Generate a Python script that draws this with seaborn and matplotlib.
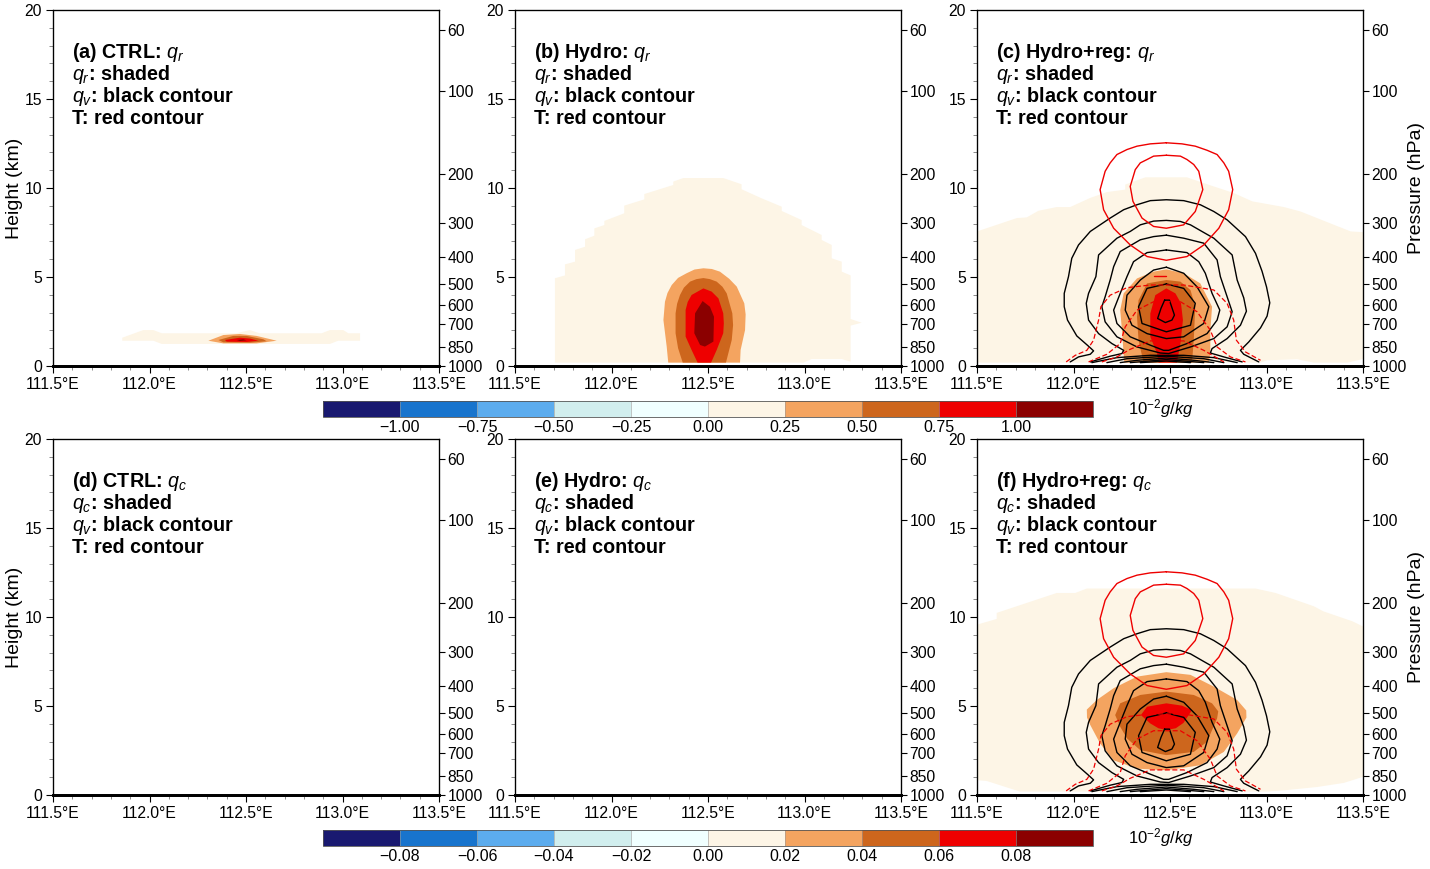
import numpy as np
import matplotlib
matplotlib.use('Agg')
import matplotlib.pyplot as plt
from matplotlib.cm import ScalarMappable
from matplotlib.colors import BoundaryNorm, ListedColormap
from matplotlib.ticker import MultipleLocator
import seaborn as sns

# axis labels
lon_ticks = [111.5, 112.0, 112.5, 113.0, 113.5]
lon_labels = ['111.5°E', '112.0°E', '112.5°E', '113.0°E', '113.5°E']
pres_labels = ['60', '100', '200', '300', '400', '500', '600', '700', '850', '1000']
pres_heights = [18.9, 15.45, 10.8, 8.03, 6.12, 4.6, 3.43, 2.36, 1.07, 0.0]

# colour bar
shade_colors = ['#191970', '#1874CD', '#5CACEE', '#D1EEEE', '#F0FFFF',
                '#FDF5E6', '#F4A460', '#CD661D', '#EE0000', '#8B0000']
qr_bounds = [-1.25, -1.0, -0.75, -0.5, -0.25, 0.0, 0.25, 0.5, 0.75, 1.0, 1.25]
qc_bounds = [-0.1, -0.08, -0.06, -0.04, -0.02, 0.0, 0.02, 0.04, 0.06, 0.08, 0.1]

# (a) qr shading
a_light_lon = [111.859, 111.968, 112.020, 112.063, 112.45, 112.52, 112.57, 112.892, 112.935, 113.004, 113.030, 113.091, 113.091, 112.978, 112.935, 112.063, 112.020, 111.859]
a_light_h = [1.59, 2.02, 2.02, 1.84, 1.84, 2.02, 1.84, 1.84, 2.02, 2.02, 1.84, 1.84, 1.42, 1.42, 1.24, 1.24, 1.42, 1.42]
a_orange_lon = [112.305, 112.383, 112.469, 112.555, 112.659, 112.555, 112.383]
a_orange_h = [1.42, 1.74, 1.80, 1.69, 1.42, 1.27, 1.27]
a_brown_lon = [112.357, 112.434, 112.503, 112.590, 112.607, 112.521, 112.383]
a_brown_h = [1.46, 1.69, 1.69, 1.50, 1.39, 1.31, 1.33]
a_red_lon = [112.391, 112.469, 112.521, 112.564, 112.503, 112.400]
a_red_h = [1.46, 1.59, 1.54, 1.42, 1.35, 1.37]
a_dark_lon = [112.452, 112.486, 112.503, 112.469]
a_dark_h = [1.46, 1.50, 1.44, 1.40]

# (b) qr shading
b_light_lon = [111.707, 111.707, 111.759, 111.759, 111.811, 111.811, 111.863, 111.863, 111.911, 111.911, 111.963, 111.963, 112.066, 112.066, 112.170, 112.170, 112.320, 112.320, 112.372, 112.579, 112.674, 112.674, 112.778, 112.882, 112.882, 112.985, 112.985, 113.037, 113.089, 113.089, 113.141, 113.141, 113.193, 113.193, 113.239, 113.239, 113.296, 113.239, 113.239, 113.193, 113.037, 112.994, 111.707]
b_light_h = [0.19, 4.93, 5.09, 5.71, 5.86, 6.52, 6.70, 7.12, 7.32, 7.73, 7.92, 8.15, 8.58, 9.01, 9.36, 9.66, 10.17, 10.36, 10.56, 10.56, 10.21, 9.93, 9.42, 8.95, 8.71, 8.20, 7.92, 7.64, 7.36, 7.08, 6.80, 6.05, 5.86, 5.30, 5.09, 2.64, 2.43, 2.27, 0.24, 0.39, 0.39, 0.19, 0.19]
b_orange_lon = [112.476, 112.430, 112.389, 112.345, 112.312, 112.290, 112.277, 112.269, 112.286, 112.294, 112.666, 112.669, 112.692, 112.695, 112.688, 112.649, 112.610, 112.562, 112.520]
b_orange_h = [5.49, 5.42, 5.21, 4.95, 4.55, 4.10, 3.61, 2.58, 1.09, 0.19, 0.19, 0.90, 2.02, 2.90, 3.52, 4.46, 4.90, 5.30, 5.45]
b_brown_lon = [112.476, 112.440, 112.407, 112.375, 112.355, 112.340, 112.332, 112.332, 112.345, 112.369, 112.593, 112.623, 112.630, 112.626, 112.597, 112.575, 112.545, 112.510]
b_brown_h = [4.94, 4.88, 4.74, 4.40, 3.99, 3.50, 2.96, 1.84, 1.00, 0.19, 0.19, 1.46, 2.30, 2.96, 4.08, 4.45, 4.74, 4.88]
b_red_lon = [112.476, 112.415, 112.395, 112.384, 112.384, 112.415, 112.446, 112.516, 112.545, 112.579, 112.582, 112.579, 112.554, 112.519]
b_red_h = [4.36, 3.99, 3.60, 3.15, 1.65, 0.90, 0.19, 0.19, 0.90, 1.84, 2.40, 2.96, 3.80, 4.18]
b_dark_lon = [112.472, 112.433, 112.429, 112.459, 112.484, 112.528, 112.531, 112.510]
b_dark_h = [3.65, 2.96, 1.84, 1.18, 1.09, 1.37, 2.77, 3.33]

# (c) qr shading
c_light_lon = [111.5, 111.706, 111.758, 111.818, 111.913, 111.983, 112.086, 112.173, 112.268, 112.268, 112.372, 112.588, 112.709, 112.830, 112.926, 113.090, 113.176, 113.436, 113.5, 113.5, 113.419, 113.246, 113.159, 113.003, 112.969, 111.5]
c_light_h = [7.56, 8.31, 8.35, 8.72, 8.93, 8.93, 9.44, 9.77, 9.91, 10.19, 10.60, 10.60, 10.15, 9.72, 9.25, 8.93, 8.68, 7.56, 7.52, 0.39, 0.19, 0.19, 0.38, 0.32, 0.19, 0.19]
c_orange_lon = [112.263, 112.251, 112.242, 112.260, 112.329, 112.415, 112.481, 112.571, 112.657, 112.718, 112.709, 112.709, 112.701]
c_orange_h = [0.19, 2.01, 3.14, 4.08, 4.92, 5.30, 5.43, 5.21, 4.64, 3.33, 2.01, 0.70, 0.19]
c_brown_lon = [112.363, 112.337, 112.329, 112.337, 112.381, 112.481, 112.554, 112.606, 112.631, 112.623, 112.614]
c_brown_h = [0.19, 1.45, 2.76, 3.70, 4.64, 4.83, 4.74, 4.27, 3.33, 1.45, 0.19]
c_red_lon = [112.441, 112.433, 112.398, 112.398, 112.424, 112.481, 112.528, 112.557, 112.567, 112.554, 112.536]
c_red_h = [0.19, 0.70, 1.64, 2.95, 3.98, 4.36, 4.08, 3.52, 2.58, 1.26, 0.19]

# (f) qc shading
f_light_lon = [111.5, 111.602, 111.602, 111.913, 112.009, 112.069, 112.943, 113.047, 113.246, 113.294, 113.445, 113.5, 113.5, 113.401, 113.263, 113.090, 113.003, 111.723, 111.550, 111.5]
f_light_h = [9.57, 9.89, 10.23, 11.35, 11.35, 11.60, 11.60, 11.35, 10.60, 10.32, 9.76, 9.47, 1.02, 0.68, 0.45, 0.26, 0.19, 0.19, 0.79, 0.83]
f_orange_lon = [112.481, 112.329, 112.208, 112.121, 112.069, 112.070, 112.087, 112.138, 112.208, 112.329, 112.481, 112.657, 112.779, 112.848, 112.896, 112.895, 112.848, 112.727, 112.606]
f_orange_h = [6.90, 6.65, 6.00, 5.34, 4.80, 4.35, 3.93, 2.89, 1.95, 1.48, 1.39, 1.67, 2.42, 3.46, 4.35, 4.75, 5.34, 6.09, 6.75]
f_brown_lon = [112.481, 112.346, 112.242, 112.216, 112.242, 112.277, 112.346, 112.481, 112.623, 112.692, 112.744, 112.750, 112.718, 112.623]
f_brown_h = [5.81, 5.62, 5.15, 4.49, 3.83, 3.18, 2.52, 2.24, 2.42, 2.99, 4.30, 4.70, 5.15, 5.62]
f_red_lon = [112.481, 112.381, 112.349, 112.398, 112.440, 112.481, 112.530, 112.570, 112.614, 112.562]
f_red_h = [5.15, 4.96, 4.49, 4.02, 3.75, 3.65, 3.75, 4.05, 4.77, 5.02]

# qv contours (black), same in (c) and (f)
k1_lon = [111.983, 112.026, 112.087, 112.104, 112.078, 112.017, 111.969, 111.952, 111.952, 111.974, 111.991, 112.026, 112.087, 112.190, 112.260, 112.329, 112.398, 112.481, 112.571, 112.657, 112.727, 112.796, 112.891, 112.943, 112.977, 113.000, 113.017, 113.003, 112.969, 112.908, 112.865, 112.882, 112.960]
k1_h = [0.23, 0.51, 0.66, 0.85, 1.11, 1.69, 2.58, 3.33, 4.08, 5.02, 6.05, 6.80, 7.56, 8.31, 8.78, 9.06, 9.29, 9.34, 9.29, 9.06, 8.68, 8.21, 7.27, 6.33, 5.32, 4.45, 3.55, 2.80, 2.14, 1.35, 0.88, 0.66, 0.23]
k2_lon = [112.087, 112.190, 112.251, 112.260, 112.199, 112.130, 112.078, 112.066, 112.078, 112.116, 112.130, 112.225, 112.294, 112.346, 112.415, 112.481, 112.554, 112.606, 112.675, 112.727, 112.822, 112.848, 112.882, 112.896, 112.865, 112.796, 112.718, 112.709, 112.779, 112.874]
k2_h = [0.23, 0.55, 0.70, 0.88, 1.26, 1.82, 2.58, 3.52, 4.08, 5.02, 6.24, 7.18, 7.56, 7.93, 8.14, 8.18, 8.12, 7.93, 7.50, 7.18, 6.24, 4.83, 3.83, 3.08, 2.29, 1.54, 0.98, 0.73, 0.51, 0.23]
k3_lon = [112.481, 112.415, 112.346, 112.242, 112.208, 112.190, 112.164, 112.147, 112.164, 112.225, 112.329, 112.450, 112.493, 112.606, 112.727, 112.796, 112.822, 112.796, 112.761, 112.744, 112.675, 112.571, 112.481]
k3_h = [7.35, 7.27, 7.09, 6.43, 5.58, 4.83, 3.89, 3.33, 2.48, 1.64, 1.07, 0.73, 0.70, 1.07, 1.54, 2.20, 3.05, 3.89, 5.02, 5.96, 6.90, 7.18, 7.35]
k4_lon = [112.481, 112.381, 112.311, 112.277, 112.242, 112.208, 112.225, 112.294, 112.398, 112.467, 112.493, 112.588, 112.692, 112.744, 112.758, 112.718, 112.683, 112.649, 112.588, 112.481]
k4_h = [6.52, 6.37, 5.86, 5.02, 4.08, 3.14, 2.39, 1.64, 1.17, 0.88, 0.88, 1.26, 1.82, 2.58, 3.14, 4.08, 5.21, 5.86, 6.37, 6.52]
k5_lon = [112.481, 112.415, 112.346, 112.277, 112.268, 112.303, 112.381, 112.481, 112.571, 112.675, 112.701, 112.640, 112.571, 112.481]
k5_h = [5.55, 5.39, 4.83, 3.98, 3.14, 2.29, 1.82, 1.54, 1.64, 2.39, 3.33, 4.45, 5.21, 5.55]
k6_lon = [112.481, 112.381, 112.337, 112.355, 112.481, 112.606, 112.631, 112.571, 112.481]
k6_h = [4.61, 4.36, 3.33, 2.39, 1.92, 2.29, 3.52, 4.36, 4.61]
k7_lon = [112.472, 112.497, 112.523, 112.510, 112.476, 112.436, 112.453, 112.472]
k7_h = [3.70, 3.70, 2.86, 2.58, 2.44, 2.67, 3.23, 3.70]
g1_lon = [112.095, 112.225, 112.398, 112.571, 112.727, 112.848]
g1_h = [0.19, 0.47, 0.60, 0.60, 0.47, 0.19]
g2_lon = [112.173, 112.277, 112.481, 112.675, 112.779]
g2_h = [0.19, 0.41, 0.55, 0.41, 0.19]
g3_lon = [112.242, 112.329, 112.481, 112.623, 112.727]
g3_h = [0.19, 0.32, 0.45, 0.32, 0.19]
g4_lon = [112.294, 112.481, 112.675]
g4_h = [0.19, 0.36, 0.19]
g5_lon = [112.346, 112.481, 112.606]
g5_h = [0.19, 0.28, 0.19]

# T contours (red)
r1_lon = [112.481, 112.398, 112.329, 112.277, 112.225, 112.190, 112.164, 112.138, 112.156, 112.208, 112.294, 112.381, 112.481, 112.588, 112.675, 112.753, 112.804, 112.825, 112.804, 112.779, 112.744, 112.692, 112.631, 112.562, 112.481]
r1_h = [12.54, 12.48, 12.35, 12.16, 11.88, 11.41, 10.94, 9.91, 8.78, 7.74, 6.80, 6.15, 5.94, 6.15, 6.80, 7.74, 8.78, 9.91, 10.94, 11.41, 11.88, 12.12, 12.35, 12.48, 12.54]
r2_lon = [112.481, 112.415, 112.381, 112.346, 112.320, 112.294, 112.308, 112.355, 112.415, 112.481, 112.571, 112.631, 112.670, 112.649, 112.623, 112.588, 112.554, 112.481]
r2_h = [11.84, 11.79, 11.60, 11.41, 11.03, 10.09, 9.25, 8.31, 7.84, 7.74, 7.93, 8.68, 9.91, 10.94, 11.32, 11.60, 11.79, 11.84]
r3_lon = [112.419, 112.481]
r3_h = [5.06, 5.06]
d1_lon = [111.962, 112.009, 112.069, 112.104, 112.130, 112.142, 112.190, 112.277, 112.398, 112.571, 112.727, 112.796, 112.830, 112.844, 112.891, 112.969]
d1_h = [0.23, 0.60, 0.88, 1.45, 2.58, 3.33, 3.98, 4.40, 4.55, 4.55, 4.27, 3.52, 2.58, 1.45, 0.79, 0.32]
d2_lon = [112.078, 112.173, 112.242, 112.268, 112.329, 112.415, 112.554, 112.640, 112.709, 112.744, 112.813, 112.891]
d2_h = [0.23, 0.66, 1.26, 2.20, 3.14, 3.61, 3.61, 3.05, 2.01, 1.07, 0.51, 0.23]
d3_lon = [112.147, 112.225, 112.294, 112.398, 112.571, 112.675, 112.779]
d3_h = [0.23, 0.51, 0.94, 1.41, 1.41, 0.88, 0.23]

sns.set_style('ticks')
plt.rcParams['font.family'] = ['Liberation Sans', 'DejaVu Sans']
plt.rcParams['text.color'] = 'black'
plt.rcParams['axes.labelcolor'] = 'black'
plt.rcParams['xtick.color'] = 'black'
plt.rcParams['ytick.color'] = 'black'
plt.rcParams['axes.edgecolor'] = 'black'
plt.rcParams['mathtext.fontset'] = 'custom'
plt.rcParams['mathtext.rm'] = 'Liberation Sans'
plt.rcParams['mathtext.it'] = 'Liberation Sans:italic'
plt.rcParams['mathtext.bf'] = 'Liberation Sans:bold'

W, H = 1430, 869
fig = plt.figure(figsize=(W / 100, H / 100), dpi=100)


def make_axes(left, bottom):
    ax = fig.add_axes([left / W, 1 - bottom / H, 386 / W, 356 / H])
    ax.set_xlim(111.5, 113.5)
    ax.set_ylim(0, 20)
    ax.set_xticks(lon_ticks)
    ax.set_xticklabels(lon_labels)
    ax.set_yticks([0, 5, 10, 15, 20])
    ax.xaxis.set_minor_locator(MultipleLocator(0.1))
    ax.yaxis.set_minor_locator(MultipleLocator(1))
    ax.tick_params(which='major', length=5, width=0.8, labelsize=11.3, pad=3)
    ax.tick_params(which='minor', length=3, width=0.6, color='#777777')
    ax.spines['bottom'].set_linewidth(2)
    for side in ['top', 'left', 'right']:
        ax.spines[side].set_visible(True)
        ax.spines[side].set_linewidth(0.9)
    # pressure axis on the right
    ax2 = ax.twinx()
    ax2.set_ylim(0, 20)
    ax2.set_yticks(pres_heights)
    ax2.set_yticklabels(pres_labels)
    ax2.tick_params(length=4, width=0.8, labelsize=11.3, pad=2)
    ax2.spines['bottom'].set_linewidth(2)
    ax2.grid(False)
    return ax, ax2


def panel_text(ax, title, var):
    lines = [title, f'${var}$: shaded', '$q_v$: black contour', 'T: red contour']
    for yy, line in zip([0.864, 0.802, 0.741, 0.679], lines):
        ax.text(0.049, yy, line, transform=ax.transAxes, fontsize=14.2,
                fontweight='bold', va='baseline', ha='left')


def shade(ax, layers):
    for (lon, h), col in zip(layers, shade_colors[5:]):
        ax.fill(lon, h, color=col, lw=0, zorder=1)


def line(ax, lon, h, color, style='-', lw=1.0):
    sns.lineplot(x=lon, y=h, sort=False, estimator=None, color=color,
                 linestyle=style, linewidth=lw, ax=ax, zorder=3)


def contours(ax):
    for lon, h in [(k1_lon, k1_h), (k2_lon, k2_h), (k3_lon, k3_h), (k4_lon, k4_h),
                   (k5_lon, k5_h), (k6_lon, k6_h), (k7_lon, k7_h), (g1_lon, g1_h),
                   (g2_lon, g2_h), (g3_lon, g3_h), (g4_lon, g4_h), (g5_lon, g5_h)]:
        line(ax, lon, h, 'black')
    for lon, h in [(r1_lon, r1_h), (r2_lon, r2_h)]:
        line(ax, lon, h, '#EE0000')
    for lon, h in [(d1_lon, d1_h), (d2_lon, d2_h), (d3_lon, d3_h)]:
        line(ax, lon, h, '#EE0000', style=(0, (4, 2)), lw=0.9)


lefts = [53, 515, 977]
axes = {}
for name, left, bottom in [('a', lefts[0], 366), ('b', lefts[1], 366), ('c', lefts[2], 366),
                           ('d', lefts[0], 795), ('e', lefts[1], 795), ('f', lefts[2], 795)]:
    axes[name] = make_axes(left, bottom)

panel_text(axes['a'][0], '(a) CTRL: $q_r$', 'q_r')
panel_text(axes['b'][0], '(b) Hydro: $q_r$', 'q_r')
panel_text(axes['c'][0], '(c) Hydro+reg: $q_r$', 'q_r')
panel_text(axes['d'][0], '(d) CTRL: $q_c$', 'q_c')
panel_text(axes['e'][0], '(e) Hydro: $q_c$', 'q_c')
panel_text(axes['f'][0], '(f) Hydro+reg: $q_c$', 'q_c')

shade(axes['a'][0], [(a_light_lon, a_light_h), (a_orange_lon, a_orange_h), (a_brown_lon, a_brown_h),
                     (a_red_lon, a_red_h), (a_dark_lon, a_dark_h)])
shade(axes['b'][0], [(b_light_lon, b_light_h), (b_orange_lon, b_orange_h), (b_brown_lon, b_brown_h),
                     (b_red_lon, b_red_h), (b_dark_lon, b_dark_h)])
shade(axes['c'][0], [(c_light_lon, c_light_h), (c_orange_lon, c_orange_h), (c_brown_lon, c_brown_h),
                     (c_red_lon, c_red_h)])
shade(axes['f'][0], [(f_light_lon, f_light_h), (f_orange_lon, f_orange_h), (f_brown_lon, f_brown_h),
                     (f_red_lon, f_red_h)])
contours(axes['c'][0])
line(axes['c'][0], r3_lon, r3_h, '#EE0000')
contours(axes['f'][0])

# outer labels
for name in ['a', 'd']:
    axes[name][0].set_ylabel('Height (km)', fontsize=14, labelpad=1)
for name in ['c', 'f']:
    axes[name][1].set_ylabel('Pressure (hPa)', fontsize=14, labelpad=1)

# colour bars
cmap = ListedColormap(shade_colors)
for top, bounds, fmt in [(401, qr_bounds, '{:.2f}'), (830, qc_bounds, '{:.2f}')]:
    cax = fig.add_axes([323 / W, 1 - (top + 16) / H, 770 / W, 16 / H])
    sm = ScalarMappable(norm=BoundaryNorm(bounds, cmap.N), cmap=cmap)
    cb = fig.colorbar(sm, cax=cax, orientation='horizontal', spacing='uniform',
                      drawedges=True)
    cb.set_ticks(bounds[1:-1])
    cb.set_ticklabels([fmt.format(b).replace('-', '\u2212') for b in bounds[1:-1]])
    cb.minorticks_off()
    cax.tick_params(which='both', length=0, labelsize=11.5, pad=2)
    cb.outline.set_linewidth(0.6)
    cb.outline.set_edgecolor('#555555')
    cb.dividers.set_linewidth(0.4)
    cb.dividers.set_color('#999999')
    fig.text(1128 / W, 1 - (top + 8) / H, '$10^{-2}g/kg$', fontsize=12,
             ha='left', va='center')

fig.savefig('out.png', dpi=100)
